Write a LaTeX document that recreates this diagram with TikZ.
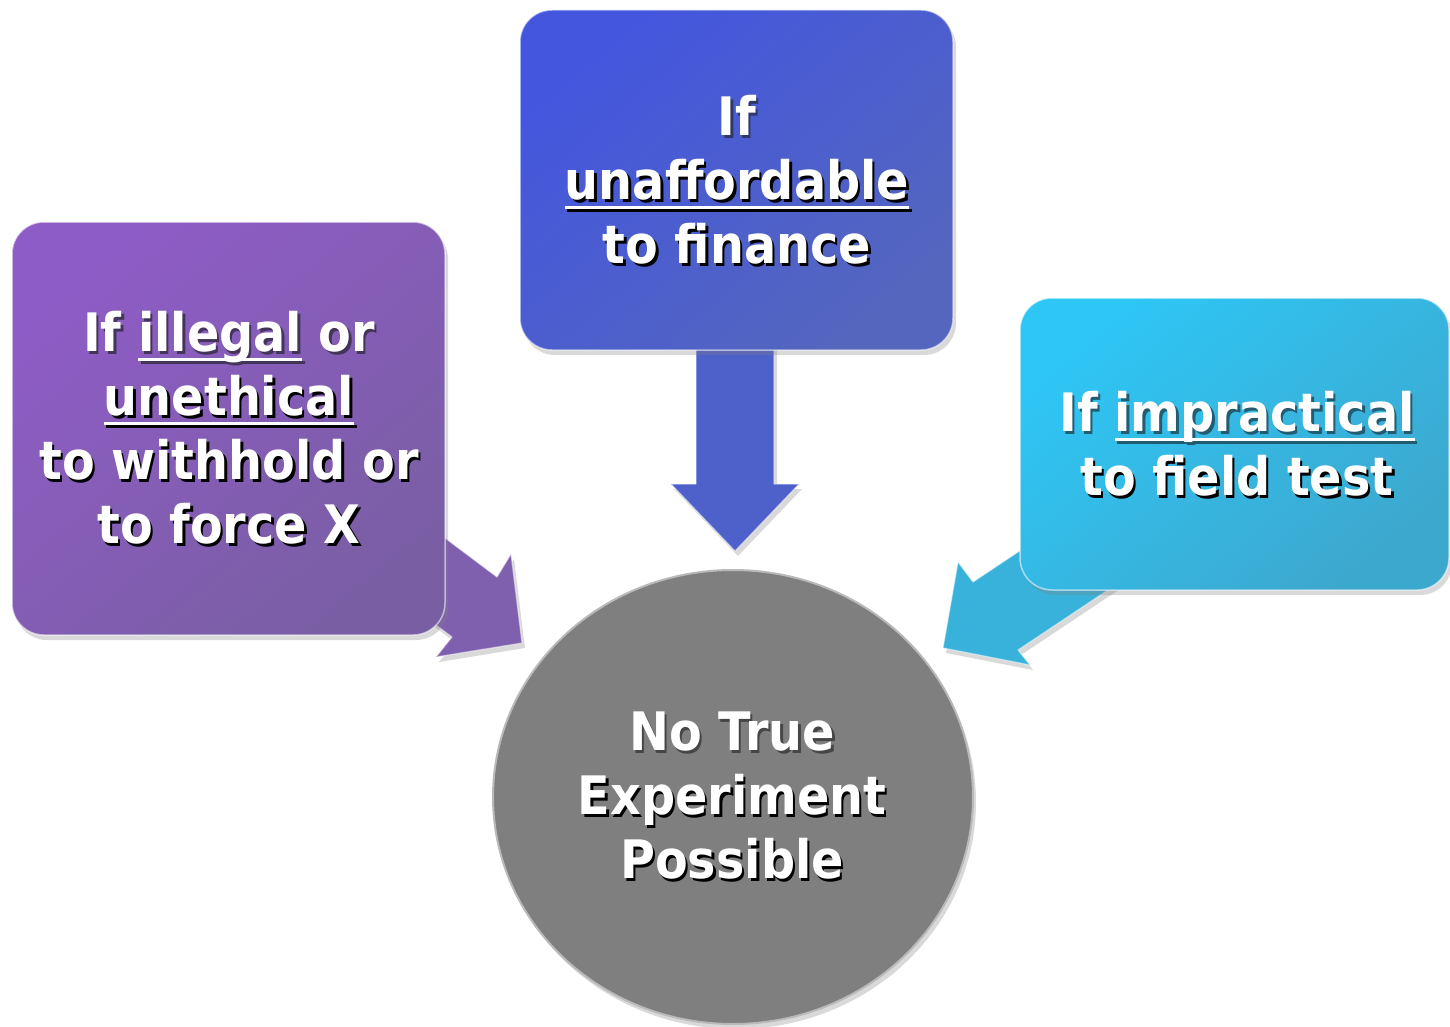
\documentclass[tikz,border=0pt]{standalone}
\usepackage{fontspec}
\newfontfamily\labfont{DejaVu Sans Condensed}
\usetikzlibrary{shapes.geometric,shadows}
\definecolor{purpA}{HTML}{8E5CC6}
\definecolor{purpB}{HTML}{7A5EA4}
\definecolor{purpArr}{HTML}{7F60AE}
\definecolor{blueA}{HTML}{4456DE}
\definecolor{blueB}{HTML}{5466BE}
\definecolor{blueArr}{HTML}{4E60CA}
\definecolor{cyanA}{HTML}{2EC6F5}
\definecolor{cyanB}{HTML}{3DA8CE}
\definecolor{cyanArr}{HTML}{38B2DA}
\definecolor{grayC}{HTML}{7F7F7F}
\colorlet{shadowc}{black}
\newcommand\ulw[1]{\setbox0=\hbox{#1}\rlap{\rule[-10pt]{\wd0}{3pt}}\box0\relax}
% a line of text with a soft dark shadow behind it
\newcommand\sh[1]{\rlap{\kern2.5pt\raisebox{-3pt}{\color{shadowc}#1}}#1}
\tikzset{
  softshadow/.style={drop shadow={opacity=0.3, shadow xshift=3pt, shadow yshift=-5pt}},
  boxshape/.style={rectangle, rounded corners=32pt, draw=white, draw opacity=0.55, line width=1.5pt, softshadow, inner sep=0pt},
  arrowshape/.style={draw=white, draw opacity=0.5, line width=1.2pt, line join=round, softshadow},
  lbl/.style={font=\labfont\bfseries\fontsize{53}{64}\selectfont, align=center, text=white, inner sep=0pt, anchor=base},
}
\begin{document}
\begin{tikzpicture}[x=1pt,y=-1pt]
\useasboundingbox (0,0) rectangle (1450,1027);
% arrows (behind the boxes)
\path[arrowshape, fill=blueArr] (696,300) -- (696,484) -- (671,484) -- (735,551) -- (799,484) -- (774,484) -- (774,300) -- cycle;
\path[arrowshape, fill=purpArr] (401,505) -- (497,577) -- (511,554) -- (522,643) -- (436,657) -- (452,637) -- (356,565) -- cycle;
\path[arrowshape, fill=cyanArr] (1081,510) -- (973,582) -- (958,562) -- (943,648) -- (1030,665) -- (1018,650) -- (1126,578) -- cycle;
% boxes
\node[boxshape, top color=purpA, bottom color=purpB, shading angle=40, minimum width=433pt, minimum height=413pt] (L) at (228.5,428.5) {};
\node[boxshape, top color=blueA, bottom color=blueB, shading angle=40, minimum width=433pt, minimum height=340pt] (T) at (736.5,180) {};
\node[boxshape, top color=cyanA, bottom color=cyanB, shading angle=40, minimum width=429pt, minimum height=292pt] (R) at (1234.5,444) {};
\node[ellipse, fill=grayC, draw=gray!55!white, line width=2pt, softshadow, minimum width=480pt, minimum height=454pt] (C) at (733,797) {};
% texts (anchor = baseline of the last line)
\node[lbl] (Lt) at (229,543) {\colorlet{shadowc}{purpB!55!black}%
  \sh{If \ulw{illegal} or}\\\sh{\ulw{unethical}}\\\sh{to withhold or}\\\sh{to force X}};
\node[lbl] (Tt) at (737,263) {\colorlet{shadowc}{blueB!55!black}%
  \sh{If}\\\sh{\ulw{unaffordable}}\\\sh{to finance}};
\node[lbl] (Rt) at (1237,495) {\colorlet{shadowc}{cyanB!55!black}%
  \sh{If \ulw{impractical}}\\\sh{to field test}};
\node[lbl] (Ct) at (732,878) {\colorlet{shadowc}{grayC!55!black}%
  \sh{No True}\\\sh{Experiment}\\\sh{Possible}};
\end{tikzpicture}
\end{document}
